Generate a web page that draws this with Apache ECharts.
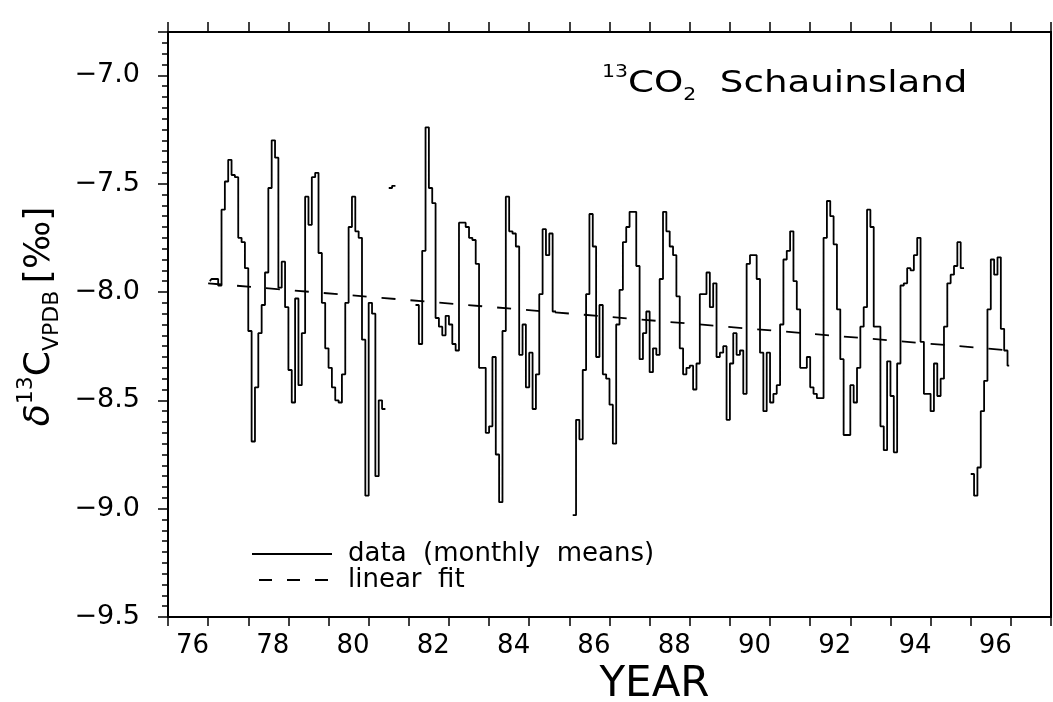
<!DOCTYPE html>
<html>
<head>
<meta charset="utf-8">
<title>13CO2 Schauinsland</title>
<script src="https://cdn.jsdelivr.net/npm/echarts@6.0.0/dist/echarts.min.js"></script>
<style>
  html, body { margin: 0; padding: 0; background: #fff; }
  #main { width: 1053px; height: 702px; }
</style>
</head>
<body>
<div id="main"></div>
<script>
// monthly means of d13C (per mil), Jan..Dec, null = no data
var firstYear = 77;
var y1977 = [-7.95, -7.94, -7.94, -7.97, -7.62, -7.49, -7.39, -7.46, -7.47, -7.75, -7.77, -7.89];
var y1978 = [-8.18, -8.69, -8.44, -8.19, -8.06, -7.91, -7.52, -7.30, -7.38, -7.98, -7.86, -8.07];
var y1979 = [-8.36, -8.51, -8.03, -8.43, -8.19, -7.56, -7.69, -7.47, -7.45, -7.82, -8.05, -8.26];
var y1980 = [-8.35, -8.44, -8.50, -8.51, -8.38, -8.05, -7.70, -7.56, -7.72, -7.75, -8.22, -8.94];
var y1981 = [-8.05, -8.10, -8.85, -8.50, -8.54, null, -7.52, -7.51, null, null, null, null];
var y1982 = [null, null, -8.06, -8.24, -7.81, -7.24, -7.52, -7.59, -8.12, -8.16, -8.20, -8.11];
var y1983 = [-8.15, -8.24, -8.27, -7.68, -7.68, -7.70, -7.75, -7.76, -7.87, -8.35, -8.35, -8.65];
var y1984 = [-8.62, -8.30, -8.75, -8.97, -8.18, -7.56, -7.72, -7.73, -7.79, -8.29, -8.15, -8.44];
var y1985 = [-8.28, -8.54, -8.38, -8.01, -7.71, -7.83, -7.73, -8.09, null, null, null, null];
var y1986 = [null, -9.03, -8.59, -8.68, -8.36, -8.01, -7.64, -7.79, -8.30, -8.06, -8.38, -8.40];
var y1987 = [-8.52, -8.70, -8.15, -7.99, -7.77, -7.70, -7.63, -7.63, -7.88, -8.31, -8.19, -8.09];
var y1988 = [-8.37, -8.26, -8.29, -7.94, -7.63, -7.72, -7.79, -7.83, -8.02, -8.26, -8.38, -8.35];
var y1989 = [-8.34, -8.45, -8.33, -8.01, -8.01, -7.91, -8.07, -7.96, -8.30, -8.28, -8.25, -8.59];
var y1990 = [-8.33, -8.19, -8.29, -8.27, -8.47, -7.87, -7.83, -7.83, -7.94, -8.28, -8.55, -8.28];
var y1991 = [-8.51, -8.47, -8.43, -8.15, -7.85, -7.81, -7.72, -7.95, -8.08, -8.35, -8.35, -8.30];
var y1992 = [-8.44, -8.47, -8.49, -8.49, -7.75, -7.58, -7.65, -7.78, -8.08, -8.31, -8.66, -8.66];
var y1993 = [-8.43, -8.51, -8.35, -8.16, -8.07, -7.62, -7.70, -8.16, -8.16, -8.62, -8.73, -8.32];
var y1994 = [-8.48, -8.74, -8.33, -7.97, -7.96, -7.89, -7.90, -7.83, -7.75, -8.23, -8.47, -8.47];
var y1995 = [-8.55, -8.33, -8.48, -8.40, -8.16, -7.96, -7.92, -7.88, -7.77, -7.89, null, null];
var y1996 = [-8.84, -8.94, -8.81, -8.55, -8.41, -8.08, -7.85, -7.92, -7.84, -8.17, -8.27, -8.34];

// linear fit end points
var fitYears = [77.0, 97.0];
var fitValues = [-7.96, -8.27];

var font = 'DejaVu Sans';

var monthly = [].concat(y1977, y1978, y1979, y1980, y1981, y1982, y1983, y1984, y1985, y1986,
  y1987, y1988, y1989, y1990, y1991, y1992, y1993, y1994, y1995, y1996);
var dataPts = monthly.map(function (v, i) {
  return [firstYear + (i + 0.5) / 12, v === null ? '-' : v];
});
var fitPts = fitYears.map(function (x, i) { return [x, fitValues[i]]; });

var myChart = echarts.init(document.getElementById('main'));

var option = {
  animation: false,
  backgroundColor: '#fff',
  textStyle: { fontFamily: font, color: '#000' },
  grid: { left: 168, right: 2, top: 32, bottom: 85, containLabel: false, outerBoundsMode: 'none' },
  // station label, stretched a little to the wide lettering of the original
  graphic: [{
    type: 'text',
    left: 602,
    top: 64,
    scaleX: 1.2,
    style: {
      text: '{sup|13}{big|CO}{sub|2}{big|  Schauinsland}',
      rich: {
        sup: { fontSize: 17, fontFamily: font, fill: '#000', verticalAlign: 'top', lineHeight: 40 },
        big: { fontSize: 31, fontFamily: font, fill: '#000', lineHeight: 40 },
        sub: { fontSize: 17, fontFamily: font, fill: '#000', verticalAlign: 'bottom', lineHeight: 40 }
      }
    }
  }],
  legend: {
    orient: 'vertical',
    left: 247,
    top: 536,
    itemWidth: 80,
    itemHeight: 2,
    itemGap: 0,
    selectedMode: false,
    formatter: function (n) { return n.replace(/ /g, '  '); },
    textStyle: { fontSize: 26, fontFamily: font, color: '#000', padding: [0, 0, 0, 11] },
    data: [
      { name: 'data (monthly means)', icon: 'path://M0,0H80V2H0Z' },
      { name: 'linear fit', icon: 'path://M0,1H0.01V1.01H0Z M7,0H20V2H7Z M35,0H48V2H35Z M63,0H76V2H63Z M79.99,1H80V1.01H79.99Z' }
    ]
  },
  xAxis: [{
    type: 'value',
    position: 'bottom',
    min: 76,
    max: 98,
    interval: 1,
    name: 'YEAR',
    nameLocation: 'middle',
    nameGap: 42,
    nameTextStyle: { fontSize: 42, fontFamily: font, color: '#000', padding: [0, 0, 0, 90] },
    axisLine: { lineStyle: { color: '#000', width: 2 } },
    axisTick: { length: 9, lineStyle: { color: '#000', width: 1.5 } },
    splitLine: { show: false },
    axisLabel: {
      fontSize: 26,
      fontFamily: font,
      color: '#000',
      margin: 16,
      align: 'left',
      padding: [0, 0, 0, 8],
      formatter: function (v) {
        var r = Math.round(v);
        return (r % 2 === 0 && r <= 96) ? String(r) : '';
      }
    }
  }, {
    type: 'value',
    position: 'top',
    min: 76,
    max: 98,
    interval: 1,
    axisLine: { lineStyle: { color: '#000', width: 2 } },
    axisTick: { length: 10, lineStyle: { color: '#000', width: 1.5 } },
    axisLabel: { show: false },
    splitLine: { show: false }
  }],
  yAxis: [{
    type: 'value',
    position: 'left',
    min: -9.5,
    max: -6.8,
    interval: 0.5,
    name: '{d|δ}{s|13}{c|C}{b|VPDB}  {c|[‰]}',
    nameLocation: 'middle',
    nameRotate: 90,
    nameGap: 98,
    nameTextStyle: {
      padding: [0, 0, 0, 16],
      rich: {
        d: { fontSize: 36, fontFamily: font, fontStyle: 'italic', color: '#000', lineHeight: 48 },
        s: { fontSize: 22, fontFamily: font, color: '#000', verticalAlign: 'top', lineHeight: 48 },
        c: { fontSize: 36, fontFamily: font, color: '#000', lineHeight: 48 },
        b: { fontSize: 22, fontFamily: font, color: '#000', verticalAlign: 'bottom', lineHeight: 48 }
      }
    },
    axisLine: { lineStyle: { color: '#000', width: 2 } },
    axisTick: { length: 10, lineStyle: { color: '#000', width: 1.5 } },
    minorTick: { show: true, splitNumber: 10, length: 6, lineStyle: { color: '#000', width: 1.5 } },
    splitLine: { show: false },
    minorSplitLine: { show: false },
    axisLabel: {
      fontSize: 27,
      fontFamily: font,
      color: '#000',
      margin: 28,
      formatter: function (v) {
        if (v > -6.95) return '';
        return v.toFixed(1).replace('-', '\u2212');
      }
    }
  }, {
    type: 'value',
    position: 'right',
    min: -9.5,
    max: -6.8,
    interval: 0.5,
    axisLine: { show: true, lineStyle: { color: '#000', width: 2 } },
    axisTick: { show: false },
    axisLabel: { show: false },
    splitLine: { show: false }
  }],
  series: [{
    name: 'data (monthly means)',
    type: 'line',
    step: 'middle',
    data: dataPts,
    symbol: 'none',
    connectNulls: false,
    lineStyle: { color: '#000', width: 1.8 },
    itemStyle: { color: '#000' },
    z: 3
  }, {
    name: 'linear fit',
    type: 'line',
    data: fitPts,
    symbol: 'none',
    lineStyle: { color: '#000', width: 1.8, type: [14, 15] },
    itemStyle: { color: '#000' },
    z: 2
  }]
};

myChart.setOption(option);
</script>
</body>
</html>
